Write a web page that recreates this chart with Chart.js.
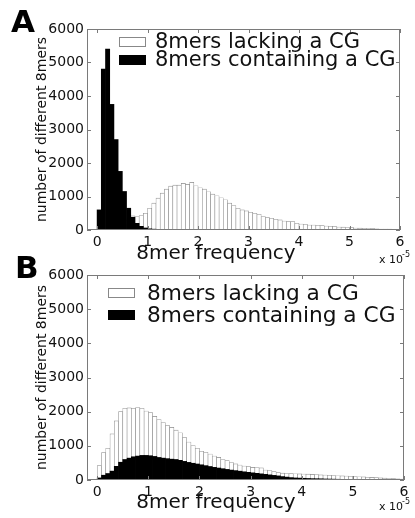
<!DOCTYPE html>
<html>
<head>
<meta charset="utf-8">
<script src="https://cdn.jsdelivr.net/npm/chart.js@4.4.0/dist/chart.umd.min.js"></script>
<style>
  body { margin: 0; background: #fff; }
  #wrap { position: relative; width: 415px; height: 518px; overflow: hidden; }
  canvas { position: absolute; left: 0; }
  #chartA { top: 0; }
  #chartB { top: 250px; }
  .panel { position: absolute; font-family: "DejaVu Sans"; font-weight: bold; font-size: 31px; line-height: 1; color: #000; }
</style>
</head>
<body>
<div id="wrap">
  <canvas id="chartA" width="415" height="268"></canvas>
  <canvas id="chartB" width="415" height="268"></canvas>
  <div class="panel" style="left:11px;top:6px">A</div>
  <div class="panel" style="left:15px;top:252px">B</div>
</div>
<script>
// histogram bins are 1/12 of a unit wide (x in units of 1e-5), starting at 0
const binWidth = 1 / 12;
const xTicks = [0, 1, 2, 3, 4, 5, 6];
const yTicks = [0, 1000, 2000, 3000, 4000, 5000, 6000];
const seriesNames = ['8mers lacking a CG', '8mers containing a CG'];

// panel A
const lackingA = [0, 1, 3, 10, 30, 80, 170, 300, 420, 400,
  430, 500, 650, 800, 950, 1100, 1220, 1310, 1340, 1340,
  1390, 1360, 1420, 1320, 1260, 1220, 1140, 1070, 1020, 960,
  900, 800, 730, 650, 600, 570, 530, 500, 470, 400,
  370, 350, 320, 300, 270, 250, 250, 200, 180, 170,
  150, 150, 140, 130, 120, 110, 100, 90, 85, 75,
  70, 60, 55, 50, 45, 40, 35, 30, 30, 25,
  20, 20];
const containingA = [600, 4800, 5400, 3750, 2700, 1750, 1150, 650, 380, 200,
  110, 60, 35, 25, 18, 14, 10, 8, 6, 5,
  4, 3, 2, 2, 1, 1, 1];

// panel B
const lackingB = [420, 800, 930, 1350, 1730, 2000, 2100, 2110, 2100, 2120,
  2100, 2020, 1970, 1860, 1770, 1680, 1590, 1540, 1460, 1380,
  1240, 1110, 1010, 930, 840, 810, 760, 700, 660, 600,
  565, 510, 470, 440, 410, 390, 370, 365, 355, 290,
  275, 245, 215, 200, 190, 185, 180, 178, 175, 170,
  165, 160, 150, 145, 140, 130, 125, 120, 115, 110,
  100, 95, 90, 80, 75, 70, 60, 55, 45, 40,
  35, 30];
const containingB = [60, 140, 190, 260, 400, 520, 600, 640, 680, 700,
  720, 720, 710, 690, 660, 640, 625, 610, 600, 575,
  545, 515, 490, 468, 445, 420, 395, 370, 350, 330,
  310, 290, 275, 258, 240, 225, 210, 195, 180, 165,
  150, 135, 120, 100, 85, 70, 60, 55, 50, 45,
  40, 38, 35, 30, 28, 25, 22, 20, 18, 15,
  12, 10, 8, 6, 5, 4, 3, 3, 2, 2,
  1, 1];

Chart.defaults.font.family = 'DejaVu Sans';
Chart.defaults.color = '#111';

const toPoints = arr => arr.map((v, i) => ({ x: (i + 0.5) * binWidth, y: v }));

// matlab style box, inward ticks, legend and x label
const matlabBox = {
  id: 'matlabBox',
  afterDatasetsDraw(chart, args, o) {
    const { ctx, chartArea: a, scales: { x, y } } = chart;
    ctx.save();
    ctx.strokeStyle = '#7a7a7a';
    ctx.lineWidth = 1;
    ctx.strokeRect(a.left + 0.5, a.top + 0.5, a.width - 1, a.height - 1);
    ctx.beginPath();
    x.ticks.forEach(t => {
      const px = Math.round(x.getPixelForValue(t.value)) + 0.5;
      ctx.moveTo(px, a.bottom); ctx.lineTo(px, a.bottom - 4);
      ctx.moveTo(px, a.top); ctx.lineTo(px, a.top + 4);
    });
    y.ticks.forEach(t => {
      const py = Math.round(y.getPixelForValue(t.value)) + 0.5;
      ctx.moveTo(a.left, py); ctx.lineTo(a.left + 4, py);
      ctx.moveTo(a.right, py); ctx.lineTo(a.right - 4, py);
    });
    ctx.stroke();

    // legend
    const ds = chart.data.datasets;
    ctx.font = o.legendFont + 'px "DejaVu Sans"';
    ctx.textBaseline = 'middle';
    ds.forEach((d, i) => {
      const cy = o.legendY + i * o.legendGap;
      ctx.fillStyle = d.backgroundColor;
      ctx.fillRect(o.legendX, cy - 5, 27, 10);
      if (d.backgroundColor === '#ffffff') {
        ctx.strokeStyle = '#888';
        ctx.strokeRect(o.legendX + 0.5, cy - 4.5, 26, 9);
      }
      ctx.fillStyle = '#111';
      ctx.fillText(d.label, o.legendX + o.textGap, cy + 1);
    });

    // x axis label and exponent
    ctx.textBaseline = 'alphabetic';
    ctx.textAlign = 'center';
    ctx.font = '20px "DejaVu Sans"';
    ctx.fillText('8mer frequency', 216, o.titleY);
    ctx.textAlign = 'left';
    ctx.font = '11px "DejaVu Sans"';
    ctx.fillText('x 10', 379, o.expY);
    ctx.font = '8px "DejaVu Sans"';
    ctx.fillText('-5', 402, o.expY - 6);
    ctx.restore();
  }
};

function makeChart(id, lacking, containing, top, right, extra) {
  return new Chart(document.getElementById(id), {
    type: 'bar',
    data: {
      datasets: [
        {
          label: seriesNames[0],
          data: toPoints(lacking),
          backgroundColor: '#ffffff',
          borderColor: '#8a8a8a',
          borderWidth: 0.6,
          order: 2
        },
        {
          label: seriesNames[1],
          data: toPoints(containing),
          backgroundColor: '#000000',
          borderWidth: 0,
          order: 1
        }
      ]
    },
    options: {
      responsive: false,
      animation: false,
      devicePixelRatio: 1,
      grouped: false,
      barPercentage: 1,
      categoryPercentage: 1,
      layout: { padding: { left: 33.6, top: top, right: right, bottom: 0 } },
      plugins: {
        legend: { display: false },
        tooltip: { enabled: false },
        matlabBox: extra
      },
      scales: {
        x: {
          type: 'linear',
          offset: false,
          min: -0.2,
          max: 6,
          grid: { display: false, drawTicks: false, offset: false },
          border: { display: false },
          afterBuildTicks: s => { s.ticks = xTicks.map(v => ({ value: v })); },
          afterFit: s => { s.height = 38; },
          ticks: { font: { size: 14 }, color: '#111', padding: 4, maxRotation: 0, callback: v => String(v) }
        },
        y: {
          min: 0,
          max: 6000,
          grid: { display: false, drawTicks: false },
          border: { display: false },
          afterBuildTicks: s => { s.ticks = yTicks.map(v => ({ value: v })); },
          afterFit: s => { s.width = 53.4; },
          ticks: { font: { size: 14 }, color: '#111', padding: 3, callback: v => String(v) },
          title: {
            display: true,
            text: 'number of different 8mers',
            font: { size: 14 },
            color: '#111',
            padding: 0
          }
        }
      }
    },
    plugins: [matlabBox]
  });
}

makeChart('chartA', lackingA, containingA, 29, 15,
  { legendX: 119, legendY: 42, legendGap: 18, legendFont: 21, textGap: 36, titleY: 259, expY: 263 });
makeChart('chartB', lackingB, containingB, 25, 11,
  { legendX: 108, legendY: 43, legendGap: 22, legendFont: 21.7, textGap: 39, titleY: 258, expY: 260 });
</script>
</body>
</html>
